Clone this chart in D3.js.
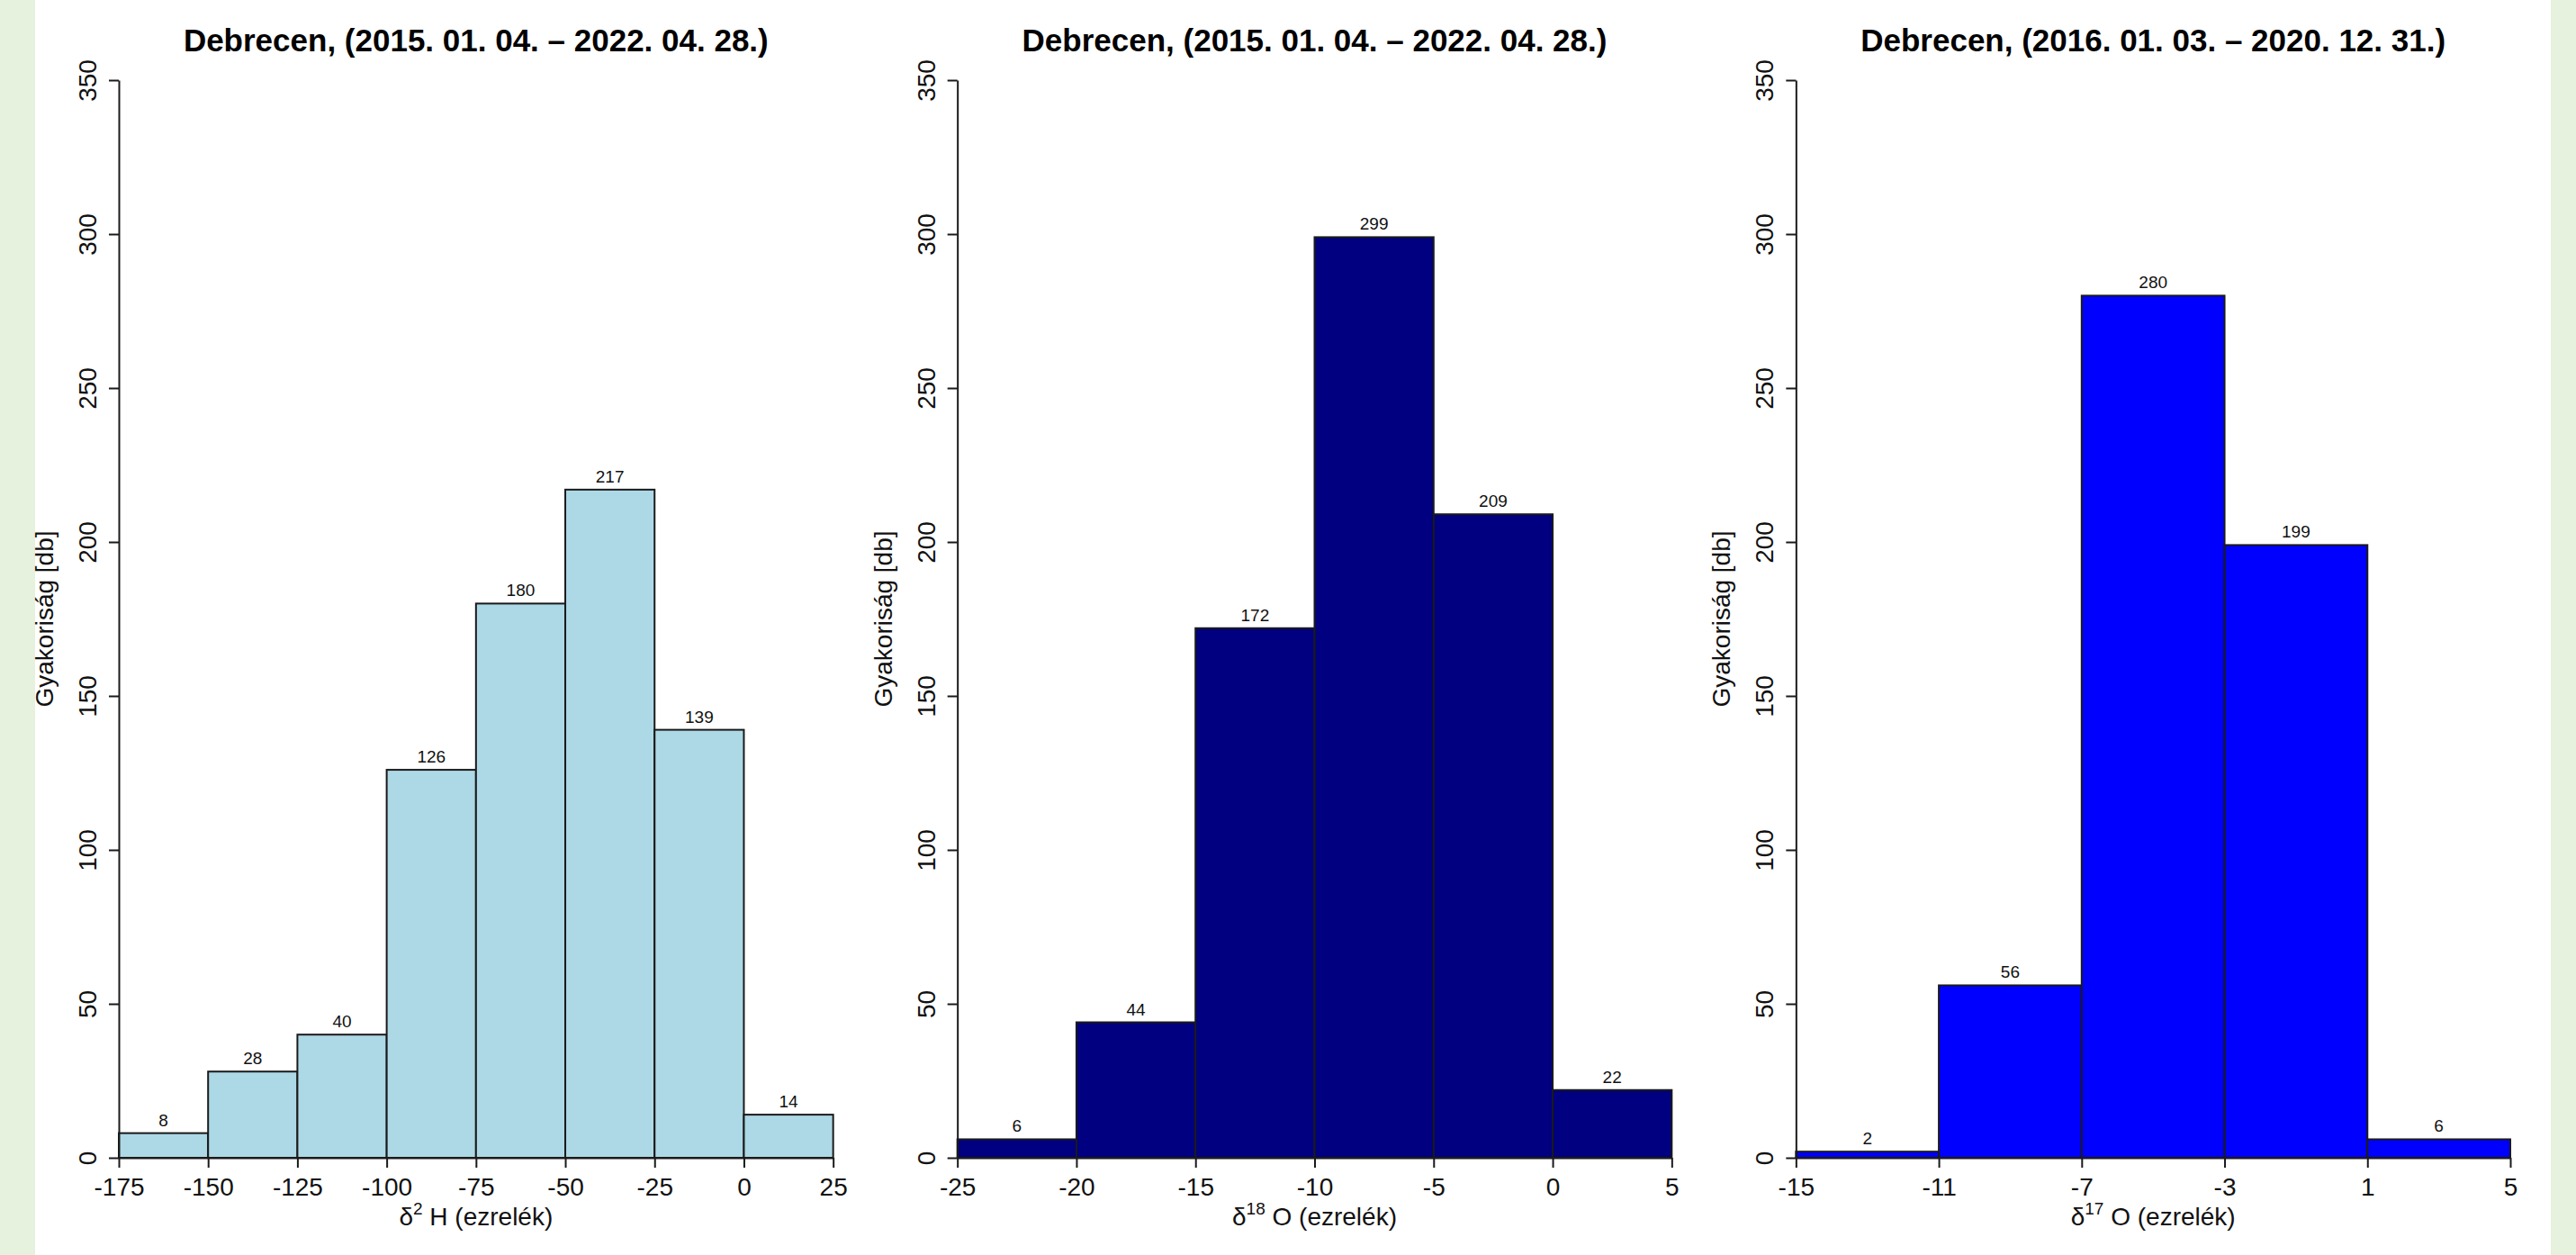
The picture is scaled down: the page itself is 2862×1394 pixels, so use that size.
<!DOCTYPE html>
<meta charset="utf-8">
<head>
    <title>Debrecen izotóp hisztogramok</title>
    <script type="text/javascript" src="https://d3js.org/d3.v7.min.js"></script>
    <style>
        body { margin: 0; padding: 0; }
        svg { display: block; font-family: "Liberation Sans", Arial, sans-serif; }
        .axis path, .axis line { stroke: #1a1a1a; stroke-width: 2; }
        .axis text { font-size: 28px; fill: #111; font-family: "Liberation Sans", Arial, sans-serif; }
    </style>
</head>

<body>
<script>
    // Data
    const titles = [
        "Debrecen, (2015. 01. 04. – 2022. 04. 28.)",
        "Debrecen, (2015. 01. 04. – 2022. 04. 28.)",
        "Debrecen, (2016. 01. 03. – 2020. 12. 31.)"
    ];
    const isotopeSup = ["2", "18", "17"];
    const isotopeEl = ["H", "O", "O"];
    const breaksH2 = [-175, -150, -125, -100, -75, -50, -25, 0, 25];
    const countsH2 = [8, 28, 40, 126, 180, 217, 139, 14];
    const breaksO18 = [-25, -20, -15, -10, -5, 0, 5];
    const countsO18 = [6, 44, 172, 299, 209, 22];
    const breaksO17 = [-15, -11, -7, -3, 1, 5];
    const countsO17 = [2, 56, 280, 199, 6];
    const yTicks = [0, 50, 100, 150, 200, 250, 300, 350];
    const fills = ["#add8e6", "#000080", "#0000ff"];

    const panels = [
        {breaks: breaksH2, counts: countsH2},
        {breaks: breaksO18, counts: countsO18},
        {breaks: breaksO17, counts: countsO17}
    ];

    const width = 2862, height = 1394;
    const innerLeft = 39, innerRight = 2834;
    const panelW = (innerRight - innerLeft) / 3;
    const margin = {left: 93, right: 45, top: 89, bottom: 108};

    const svg = d3.select("body").append("svg")
        .attr("width", width)
        .attr("height", height);

    svg.append("rect").attr("width", width).attr("height", height).attr("fill", "#e6f1de");
    svg.append("rect").attr("x", innerLeft).attr("width", innerRight - innerLeft)
        .attr("height", height).attr("fill", "white");

    const y = d3.scaleLinear().domain([0, 350]).range([height - margin.bottom, margin.top]);

    panels.forEach((p, i) => {
        const x0 = innerLeft + i * panelW;
        const x = d3.scaleLinear()
            .domain([p.breaks[0], p.breaks[p.breaks.length - 1]])
            .range([x0 + margin.left, x0 + panelW - margin.right]);
        const g = svg.append("g");
        const bins = p.counts.map((c, j) => ({x0: p.breaks[j], x1: p.breaks[j + 1], n: c}));

        // bars
        g.selectAll("rect.bar").data(bins).enter().append("rect")
            .attr("class", "bar")
            .attr("x", d => x(d.x0))
            .attr("width", d => x(d.x1) - x(d.x0))
            .attr("y", d => y(d.n))
            .attr("height", d => y(0) - y(d.n))
            .attr("fill", fills[i])
            .attr("stroke", "#1a1a1a")
            .attr("stroke-width", 2);

        // count labels
        g.selectAll("text.lab").data(bins).enter().append("text")
            .attr("class", "lab")
            .attr("x", d => (x(d.x0) + x(d.x1)) / 2)
            .attr("y", d => y(d.n) - 8)
            .attr("text-anchor", "middle")
            .attr("font-size", 19)
            .attr("fill", "#111")
            .text(d => d.n);

        // x axis at zero
        g.append("g").attr("class", "axis")
            .attr("transform", `translate(0,${y(0)})`)
            .call(d3.axisBottom(x).tickValues(p.breaks).tickFormat(d3.format("d"))
                .tickSize(11).tickSizeOuter(0).tickPadding(11))
            .selectAll("text").text(d => d < 0 ? "-" + Math.abs(d) : d);

        // y axis with rotated labels
        const left = x(p.breaks[0]);
        const ya = g.append("g").attr("class", "axis")
            .attr("transform", `translate(${left},0)`)
            .call(d3.axisLeft(y).tickValues(yTicks).tickSize(11).tickSizeOuter(0));
        ya.selectAll("text")
            .attr("x", null).attr("dy", null)
            .attr("text-anchor", "middle")
            .attr("transform", "translate(-25,0) rotate(-90)");

        // title
        const cx = (x.range()[0] + x.range()[1]) / 2;
        g.append("text")
            .attr("x", cx).attr("y", 57)
            .attr("text-anchor", "middle")
            .attr("font-size", 35).attr("font-weight", "bold")
            .attr("fill", "#000")
            .text(titles[i]);

        // y label
        g.append("text")
            .attr("transform", `translate(${left - 73},${(y(0) + y(350)) / 2}) rotate(-90)`)
            .attr("text-anchor", "middle")
            .attr("font-size", 28).attr("fill", "#111")
            .text("Gyakoriság [db]");

        // x label
        const xl = g.append("text")
            .attr("x", cx).attr("y", 1361)
            .attr("text-anchor", "middle")
            .attr("font-size", 28).attr("fill", "#111");
        xl.append("tspan").text("δ");
        xl.append("tspan").attr("font-size", 19).attr("dy", -12).text(isotopeSup[i]);
        xl.append("tspan").attr("dy", 12).text(" " + isotopeEl[i] + " (ezrelék)");
    });
</script>
</body>
</html>
